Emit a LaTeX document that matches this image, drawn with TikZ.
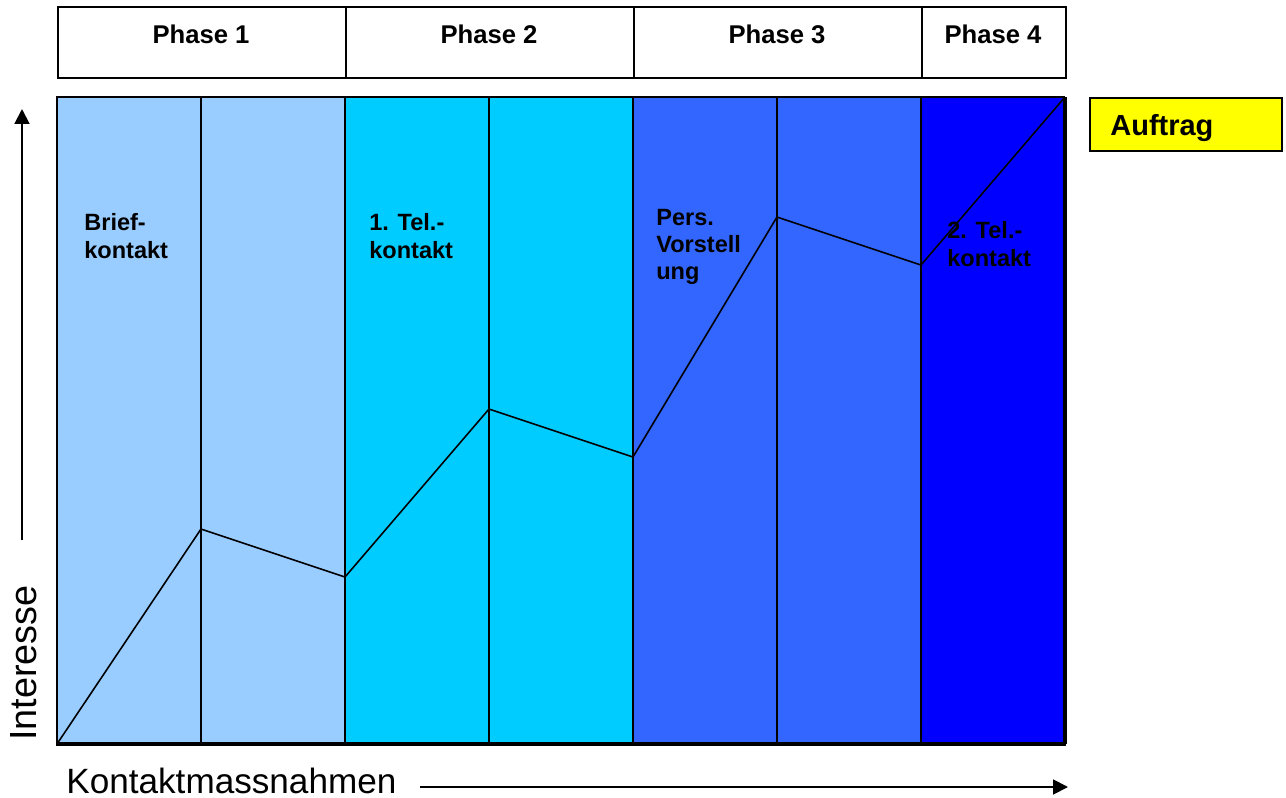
\documentclass[tikz,border=0pt]{standalone}
\usepackage{fontspec}
\setmainfont{Liberation Sans}
\usetikzlibrary{arrows.meta}
\definecolor{cA}{HTML}{99CCFF}
\definecolor{cB}{HTML}{00CCFF}
\definecolor{cC}{HTML}{3366FF}
\definecolor{cD}{HTML}{0000FF}
\definecolor{yel}{HTML}{FFFF00}
\begin{document}
\begin{tikzpicture}[x=0.02cm,y=-0.02cm,
  phasebox/.style={draw=black, line width=1pt, anchor=north west, minimum height=1.42cm, inner sep=0pt},
  phasetext/.style={anchor=base, inner sep=0pt, font=\bfseries\fontsize{14.6}{17}\selectfont},
  coltext/.style={anchor=base west, inner sep=0pt, font=\bfseries\fontsize{13.4}{16}\selectfont},
  axistext/.style={inner sep=0pt, font=\fontsize{20}{24}\selectfont},
  grid/.style={draw=black, line width=1pt},
  curve/.style={draw=black, line width=0.9pt, line join=miter},
  axisarrow/.style={draw=black, line width=1.1pt, -{Triangle[length=8.5pt,width=8.5pt]}}
]
\useasboundingbox (0,0) rectangle (1286,798);
% column fills
\fill[cA] (57,97) rectangle (345,744);
\fill[cB] (345,97) rectangle (633,744);
\fill[cC] (633,97) rectangle (921,744);
\fill[cD] (921,97) rectangle (1065,744);
% grid
\foreach \x in {201,345,489,633,777,921}{\draw[grid] (\x,97) -- (\x,744);}
\draw[grid] (57,744) -- (57,97) -- (1065,97);
\draw[draw=black, line width=2pt] (1065,97) -- (1065,744);
\draw[draw=black, line width=2.2pt] (56,744) -- (1066,744);
% phase header
\node[phasebox, minimum width=5.76cm] (ph1) at (57,6) {};
\node[phasebox, minimum width=5.76cm] (ph2) at (345,6) {};
\node[phasebox, minimum width=5.76cm] (ph3) at (633,6) {};
\node[phasebox, minimum width=2.88cm] (ph4) at (921,6) {};
\node[phasetext] (t1) at (201,43) {Phase 1};
\node[phasetext] (t2) at (489,43) {Phase 2};
\node[phasetext] (t3) at (777,43) {Phase 3};
\node[phasetext] (t4) at (993,43) {Phase 4};
% interest curve
\coordinate (p0) at (57,744);
\coordinate (p1) at (201,529);
\coordinate (p2) at (345,577);
\coordinate (p3) at (489,409);
\coordinate (p4) at (633,457);
\coordinate (p5) at (777,217);
\coordinate (p6) at (921,265);
\coordinate (p7) at (1065,97);
\draw[curve] (p0) -- (p1) -- (p2) -- (p3) -- (p4) -- (p5) -- (p6) -- (p7);
% column labels
\node[coltext] (a1) at (84,230) {Brief-};
\node[coltext] (a2) at (84,258) {kontakt};
\node[coltext] (b1) at (369,230) {1. Tel.-};
\node[coltext] (b2) at (369,258) {kontakt};
\node[coltext] (c1) at (656,225) {Pers.};
\node[coltext] (c2) at (656,252) {Vorstell};
\node[coltext] (c3) at (656,279) {ung};
\node[coltext] (d1) at (947,238) {2. Tel.-};
\node[coltext] (d2) at (947,266) {kontakt};
% Auftrag
\node[draw=black, line width=1pt, fill=yel, anchor=north west, minimum width=3.84cm, minimum height=1.06cm, inner sep=0pt] (auftrag) at (1089,97) {};
\node[anchor=base west, inner sep=0pt, font=\bfseries\fontsize{16.5}{20}\selectfont] (auftragtext) at (1110,135) {Auftrag};
% axes
\coordinate (ya) at (22,540);
\coordinate (yb) at (22,109);
\draw[axisarrow] (ya) -- (yb);
\node[axistext, rotate=90, anchor=base west, font=\fontsize{21.5}{24}\selectfont] (ylab) at (36,741) {Interesse};
\coordinate (xa) at (420,787);
\coordinate (xb) at (1068,787);
\draw[axisarrow] (xa) -- (xb);
\node[axistext, anchor=base west] (xlab) at (66,793) {Kontaktmassnahmen};
\end{tikzpicture}
\end{document}
